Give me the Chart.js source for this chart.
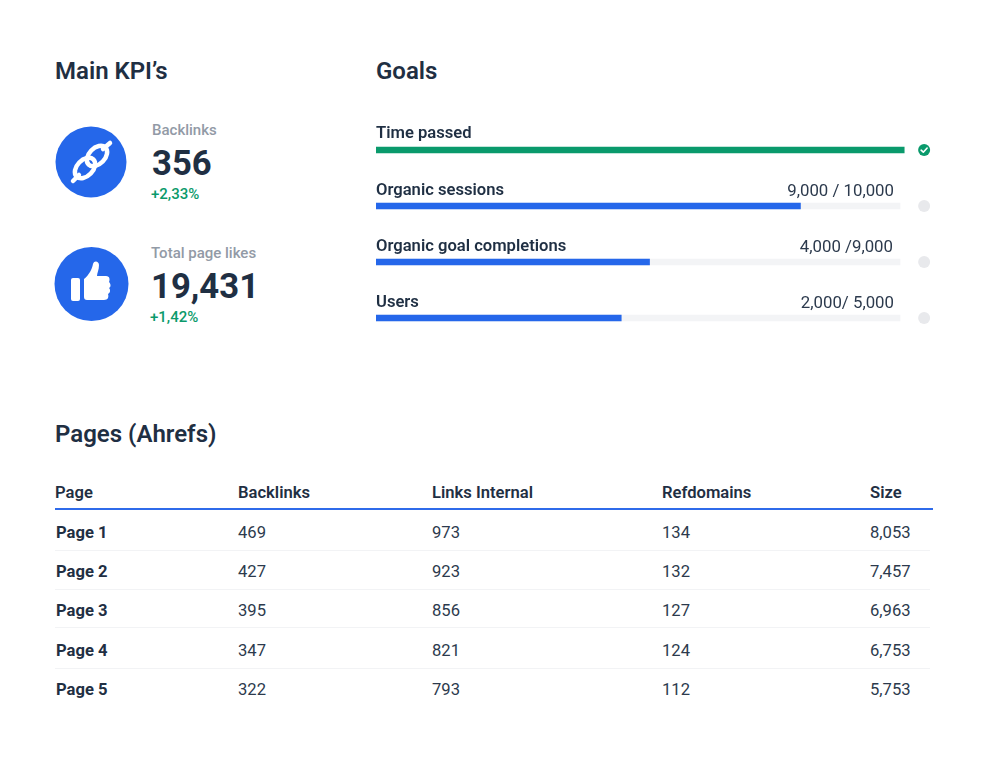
<!DOCTYPE html>
<html>
<head>
<meta charset="utf-8">
<title>Main KPI's</title>
<script src="https://cdn.jsdelivr.net/npm/chart.js@4/dist/chart.umd.min.js"></script>
<style>
html, body { margin: 0; padding: 0; background: #fff; }
body { width: 992px; height: 757px; position: relative; overflow: hidden; font-family: Roboto, sans-serif; color: #1f2f43; }
.t { position: absolute; white-space: nowrap; line-height: 20px; height: 20px; }
.h { font-size: 24px; font-weight: 600; line-height: 30px; height: 30px; }
.lab { font-size: 15px; font-weight: 500; color: #929aa6; }
.big { font-size: 34.7px; font-weight: 700; line-height: 40px; height: 40px; }
.chg { font-size: 15px; font-weight: 500; color: #0b9a6b; }
.goal { font-size: 16.6px; font-weight: 600; }
.val { font-size: 16.8px; color: #2c3a4d; }
.th { font-size: 16.6px; font-weight: 600; }
.td { font-size: 16.6px; color: #2c3a4d; }
.b { font-weight: 700; color: #1f2f43; }
.rule { position: absolute; height: 1px; background: #f2f3f5; left: 55px; width: 875px; }
#goals { position: absolute; left: 376px; top: 122px; }
svg { position: absolute; }
</style>
</head>
<body>
<div class="t h" style="left:55px;top:56px">Main KPI’s</div>
<div class="t h" style="left:376px;top:56px">Goals</div>
<div class="t h" style="left:55px;top:419px">Pages (Ahrefs)</div>

<svg style="left:55px;top:126px" width="72" height="72" viewBox="0 0 72 72">
  <circle cx="36" cy="36" r="35.5" fill="#2567ea"/>
  <g fill="none" stroke="#fff" stroke-width="4.5" stroke-linecap="round">
    <path d="M18 55 L24 49 M48 23 L55 17"/>
    <ellipse cx="30" cy="42" rx="12" ry="8" transform="rotate(-46 30 42)"/>
    <ellipse cx="42" cy="30" rx="12" ry="8" transform="rotate(-46 42 30)"/>
  </g>
</svg>
<svg style="left:54px;top:247px" width="75" height="75" viewBox="0 0 75 75">
  <circle cx="37.5" cy="37" r="37" fill="#2567ea"/>
  <rect x="17" y="31" width="9" height="23" rx="2" fill="#fff"/>
  <path d="M30 32 C35 28 38 22 39 17 C40 13 45 14 45 18 C45 23 43 26 43 29 L52 29 C56 29 56 33 55 35 C57 37 57 40 55 41 C57 43 56 46 54 47 C55 50 54 53 50 53 L33 53 C31 53 30 52 30 50 Z" fill="#fff"/>
</svg>

<canvas id="goals" width="564" height="224"></canvas>

<script>
const goalNames = ['Time passed', 'Organic sessions', 'Organic goal completions', 'Users'];
const goalText = ['', '9,000 / 10,000', '4,000 /9,000', '2,000/ 5,000'];
const goalFill = [100.8, 81, 52.2, 46.8];
const goalTrack = [0, 100, 100, 100];
const goalDone = [true, false, false, false];
const goalDot = [104.6, 104.6, 104.6, 104.6];

const kpiNames = ['Backlinks', 'Total page likes'];
const kpiValues = ['356', '19,431'];
const kpiChanges = ['+2,33%', '+1,42%'];

const tableHead = ['Page', 'Backlinks', 'Links Internal', 'Refdomains', 'Size'];
const pages = ['Page 1', 'Page 2', 'Page 3', 'Page 4', 'Page 5'];
const backlinks = ['469', '427', '395', '347', '322'];
const linksInternal = ['973', '923', '856', '821', '793'];
const refdomains = ['134', '132', '127', '124', '112'];
const sizes = ['8,053', '7,457', '6,963', '6,753', '5,753'];

function addText(cls, str, x, y) {
    const el = document.createElement('div');
    el.className = 't ' + cls;
    el.textContent = str;
    el.style.left = x + 'px';
    el.style.top = y + 'px';
    document.body.appendChild(el);
    return el;
}

// KPI blocks
addText('lab', kpiNames[0], 152, 120);
addText('big', kpiValues[0], 152, 143);
addText('chg', kpiChanges[0], 151, 184);
addText('lab', kpiNames[1], 151, 243);
addText('big', kpiValues[1], 151, 266);
addText('chg', kpiChanges[1], 150, 307);

// goal labels
const goalLabelY = [122.5, 180, 236, 292];
const goalTextRight = [0, 894, 893, 894];
goalNames.forEach((name, i) => {
    addText('goal', name, 376, goalLabelY[i]);
    if (goalText[i]) {
        const el = addText('val', goalText[i], 0, goalLabelY[i] - 0.5);
        el.style.left = 'auto';
        el.style.right = (992 - goalTextRight[i]) + 'px';
    }
});

// table
const colX = [56, 238, 432, 662, 870];
const headX = [55, 238, 432, 662, 870];
const rowY = [523, 562, 601, 641, 680];
const ruleY = [550, 589, 627, 668];
tableHead.forEach((h, i) => addText('th', h, headX[i], 483));
const line = document.createElement('div');
line.style.cssText = 'position:absolute;left:55px;top:508px;width:878px;height:2px;background:#2f6bea';
document.body.appendChild(line);
pages.forEach((p, i) => {
    addText('td b', p, colX[0], rowY[i]);
    addText('td', backlinks[i], colX[1], rowY[i]);
    addText('td', linksInternal[i], colX[2], rowY[i]);
    addText('td', refdomains[i], colX[3], rowY[i]);
    addText('td', sizes[i], colX[4], rowY[i]);
});
ruleY.forEach(y => {
    const r = document.createElement('div');
    r.className = 'rule';
    r.style.top = y + 'px';
    document.body.appendChild(r);
});

// white tick on the finished goal's dot
const tickPlugin = {
    id: 'tick',
    afterDatasetsDraw(chart) {
        const meta = chart.getDatasetMeta(2);
        const ctx = chart.ctx;
        goalDone.forEach((done, i) => {
            if (!done) return;
            const p = meta.data[i];
            ctx.save();
            ctx.strokeStyle = '#fff';
            ctx.lineWidth = 1.6;
            ctx.lineCap = 'round';
            ctx.lineJoin = 'round';
            ctx.beginPath();
            ctx.moveTo(p.x - 3, p.y + 0.2);
            ctx.lineTo(p.x - 0.8, p.y + 2.2);
            ctx.lineTo(p.x + 3, p.y - 2);
            ctx.stroke();
            ctx.restore();
        });
    }
};

new Chart(document.getElementById('goals'), {
    type: 'bar',
    data: {
        labels: goalNames,
        datasets: [
            {
                label: 'Progress',
                data: goalFill,
                backgroundColor: goalDone.map(d => d ? '#0a9a6c' : '#2567ea'),
                barThickness: 6,
                grouped: false,
                order: 2
            },
            {
                label: 'Track',
                data: goalTrack,
                backgroundColor: '#f3f4f6',
                barThickness: 6,
                grouped: false,
                order: 3
            },
            {
                type: 'line',
                label: 'Status',
                data: goalDot,
                showLine: false,
                pointRadius: 6,
                pointHoverRadius: 6,
                pointBorderWidth: 0,
                pointBackgroundColor: goalDone.map(d => d ? '#0a9a6c' : '#e8e9ec'),
                order: 1
            }
        ]
    },
    options: {
        indexAxis: 'y',
        responsive: false,
        animation: false,
        events: [],
        layout: { padding: 0, autoPadding: false },
        plugins: {
            legend: { display: false },
            tooltip: { enabled: false }
        },
        scales: {
            x: { display: false, min: 0, max: 107.63 },
            y: { display: false, offset: true }
        }
    },
    plugins: [tickPlugin]
});
</script>
</body>
</html>
